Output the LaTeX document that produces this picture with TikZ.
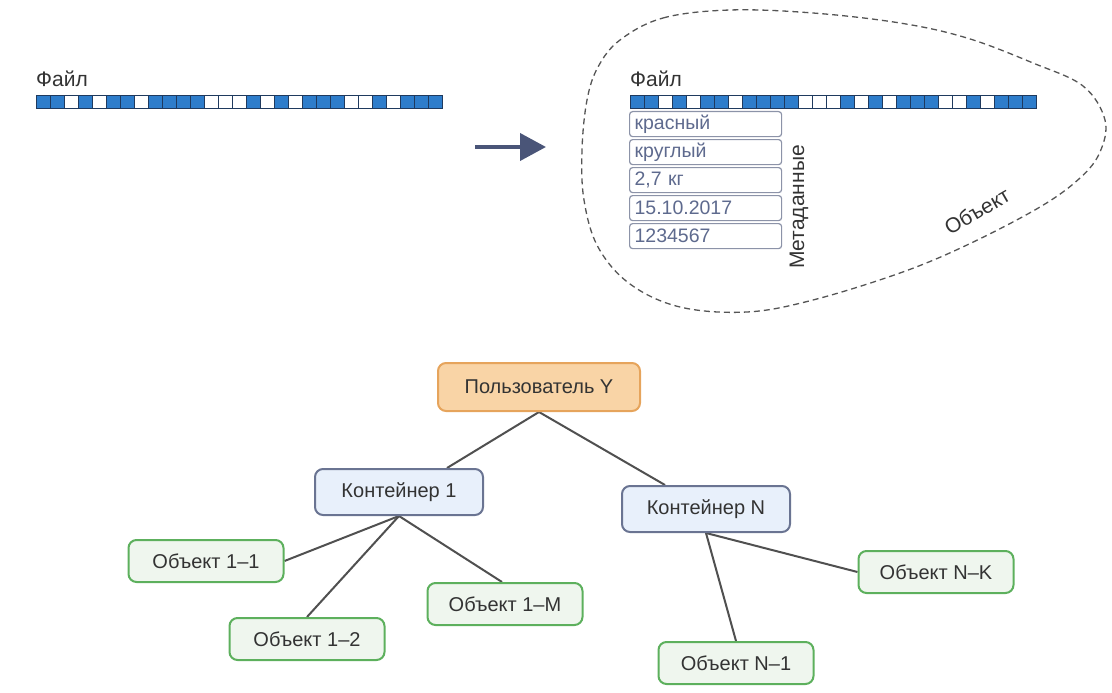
\documentclass[tikz,border=0pt]{standalone}
\usepackage{fontspec}
\setmainfont{Liberation Sans}
\usetikzlibrary{arrows.meta,calc,backgrounds}
\definecolor{cellblue}{HTML}{2E7DCB}
\definecolor{celledge}{HTML}{1F3A5E}
\definecolor{metaedge}{HTML}{8C93A8}
\definecolor{metatext}{HTML}{5E6A8E}
\definecolor{darktext}{HTML}{333333}
\definecolor{arrowcol}{HTML}{4A5578}
\definecolor{userfill}{HTML}{F9D4A6}
\definecolor{useredge}{HTML}{E6A45C}
\definecolor{contfill}{HTML}{E8F0FB}
\definecolor{contedge}{HTML}{6A7492}
\definecolor{objfill}{HTML}{EFF6EE}
\definecolor{objedge}{HTML}{5DB05D}
\definecolor{linkcol}{HTML}{505050}
\definecolor{blobcol}{HTML}{555555}
\tikzset{
  cellB/.style={fill=cellblue,draw=celledge,line width=1pt},
  cellW/.style={fill=white,draw=celledge,line width=1pt},
  metabox/.style={draw=metaedge,line width=1.2pt,rounded corners=3pt,fill=white,
    minimum width=152pt,minimum height=25pt,text width=142pt,inner xsep=5pt,inner ysep=0pt,
    align=left,anchor=north west,text=metatext,font=\fontsize{19.5}{22}\selectfont},
  lbl/.style={text=darktext,inner sep=0pt,font=\fontsize{21}{24}\selectfont},
  treebox/.style={rounded corners=8pt,line width=2pt,inner sep=0pt,text=darktext,
    font=\fontsize{20}{24}\selectfont},
  userbox/.style={treebox,fill=userfill,draw=useredge,minimum width=202pt,minimum height=48pt},
  contbox/.style={treebox,fill=contfill,draw=contedge,minimum width=168pt,minimum height=46pt},
  objbox/.style={treebox,fill=objfill,draw=objedge,minimum width=155pt,minimum height=42pt},
  link/.style={draw=linkcol,line width=2pt}
}
\begin{document}
\begin{tikzpicture}[x=1pt,y=-1pt]
\useasboundingbox (0,0) rectangle (1112,693);
% object blob
\draw[blobcol,line width=1.3pt,dash pattern=on 6pt off 4pt]
  plot[smooth cycle,tension=0.6] coordinates {
   (620,40) (663,18) (730,10) (813,13) (900,23) (967,38) (1033,63) (1083,86)
   (1105,120) (1100,152) (1080,178) (1040,207) (967,245) (900,273) (813,300)
   (747,312) (680,307) (630,284) (598,247) (584,200) (582,150) (587,100) (598,67)};
% left file
\node[lbl,anchor=south west] (fileA) at (36,87) {Файл};
\foreach \v [count=\i from 0] in {1,1,0,1,0,1,1,0,1,1,1,1,0,0,0,1,0,1,0,1,1,1,0,0,1,0,1,1,1}{
  \ifnum\v=1 \filldraw[cellB] (36+\i*14,96) rectangle ++(14,13);
  \else \filldraw[cellW] (36+\i*14,96) rectangle ++(14,13); \fi
}
% right file
\node[lbl,anchor=south west] (fileB) at (630,87) {Файл};
\foreach \v [count=\i from 0] in {1,1,0,1,0,1,1,0,1,1,1,1,0,0,0,1,0,1,0,1,1,1,0,0,1,0,1,1,1}{
  \ifnum\v=1 \filldraw[cellB] (630+\i*14,96) rectangle ++(14,13);
  \else \filldraw[cellW] (630+\i*14,96) rectangle ++(14,13); \fi
}
% metadata
\node[metabox] (m1) at (629,111) {красный};
\node[metabox] (m2) at (629,139) {круглый};
\node[metabox] (m3) at (629,167) {2,7 кг};
\node[metabox] (m4) at (629,195) {15.10.2017};
\node[metabox] (m5) at (629,223) {1234567};
\node[lbl,rotate=90] (meta) at (799,207) {Метаданные};
\node[lbl,rotate=30] (objlbl) at (977,211) {Объект};
% arrow
\coordinate (arA) at (475,147);
\coordinate (arB) at (546,147);
\draw[arrowcol,line width=4pt,-{Triangle[length=26pt,width=27pt]}] (arA) -- (arB);
% tree
\node[userbox] (user) at (539,387) {Пользователь Y};
\node[contbox] (k1) at (399,492) {Контейнер 1};
\node[contbox] (kN) at (706,509) {Контейнер N};
\node[objbox] (o11) at (206,561) {Объект 1–1};
\node[objbox] (o12) at (307,639) {Объект 1–2};
\node[objbox] (o1M) at (505,604) {Объект 1–M};
\node[objbox] (oN1) at (736,663) {Объект N–1};
\node[objbox] (oNK) at (936,572) {Объект N–K};
\begin{scope}[on background layer]
\draw[link] (user.south) -- ($(k1.north)+(48,0)$);
\draw[link] (user.south) -- ($(kN.north)+(-41,0)$);
\draw[link] (k1.south) -- (o11.east);
\draw[link] (k1.south) -- (o12.north);
\draw[link] (k1.south) -- ($(o1M.north)+(-3,0)$);
\draw[link] (kN.south) -- (oN1.north);
\draw[link] (kN.south) -- (oNK.west);
\end{scope}
\end{tikzpicture}
\end{document}
